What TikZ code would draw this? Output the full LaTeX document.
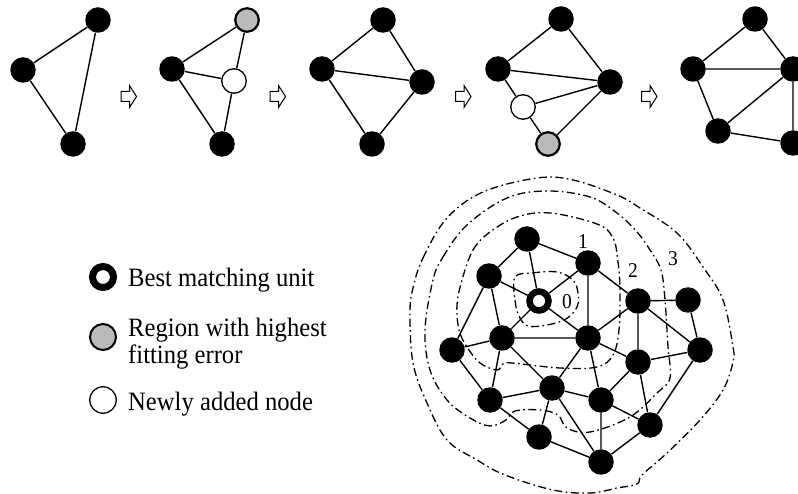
\documentclass[tikz,border=0pt]{standalone}
\usepackage{fontspec}
\setmainfont{Liberation Serif}[FakeStretch=0.93]
\begin{document}
\begin{tikzpicture}[x=1pt,y=-1pt,
  vtx/.style={circle,fill=black,minimum size=25.5pt,inner sep=0pt},
  errvtx/.style={circle,draw=black,line width=2.2pt,fill=black!27,minimum size=23.5pt,inner sep=0pt},
  newvtx/.style={circle,draw=black,line width=1.3pt,fill=white,minimum size=24.5pt,inner sep=0pt},
  bmu/.style={circle,draw=black,line width=6.5pt,fill=white,minimum size=19pt,inner sep=0pt},
  link/.style={line width=1.4pt},
  ring/.style={line width=1.3pt,dash pattern=on 8pt off 3.5pt on 1.6pt off 3.5pt},
  lvl/.style={font=\fontsize{21}{21}\selectfont,inner sep=0pt},
  legtext/.style={font=\fontsize{26.5}{26}\selectfont,anchor=base west,inner sep=0pt},
  stagearrow/.pic={\draw[line width=1pt,fill=white,line join=miter]
      (-7.5,-5) -- (1,-5) -- (1,-11) -- (8,0) -- (1,11) -- (1,5) -- (-7.5,5) -- cycle;},
]
\useasboundingbox (0,0) rectangle (798,494);

% ---------- growth sequence (top row) ----------
\node[vtx] (g1t) at (98,20) {};
\node[vtx] (g1l) at (23,70) {};
\node[vtx] (g1b) at (73,144) {};
\draw[link] (g1l) -- (g1t) (g1l) -- (g1b) (g1t) -- (g1b);

\pic at (128.5,96.5) {stagearrow};

\node[errvtx] (g2t) at (247,20) {};
\node[vtx] (g2l) at (172,69) {};
\node[newvtx] (g2n) at (234,81) {};
\node[vtx] (g2b) at (222,144) {};
\draw[link] (g2l) -- (g2t) (g2l) -- (g2n) (g2n) -- (g2t) (g2l) -- (g2b) (g2n) -- (g2b);

\pic at (277.5,96.5) {stagearrow};

\node[vtx] (g3t) at (383,20) {};
\node[vtx] (g3l) at (322,69) {};
\node[vtx] (g3r) at (422,82) {};
\node[vtx] (g3b) at (372,144) {};
\draw[link] (g3l) -- (g3t) (g3t) -- (g3r) (g3l) -- (g3r) (g3l) -- (g3b) (g3b) -- (g3r);

\pic at (463,96.5) {stagearrow};

\node[vtx] (g4t) at (561,19) {};
\node[vtx] (g4l) at (498,69) {};
\node[vtx] (g4r) at (610,82) {};
\node[newvtx] (g4n) at (523,107) {};
\node[errvtx] (g4b) at (548,144) {};
\draw[link] (g4l) -- (g4t) (g4t) -- (g4r) (g4l) -- (g4r) (g4l) -- (g4n)
  (g4n) -- (g4r) (g4n) -- (g4b) (g4b) -- (g4r);

\pic at (649,96.5) {stagearrow};

\node[vtx] (g5t) at (755,19) {};
\node[vtx] (g5l) at (693,69) {};
\node[vtx] (g5r) at (793,69) {};
\node[vtx] (g5bl) at (718,131) {};
\node[vtx] (g5br) at (793,143) {};
\draw[link] (g5l) -- (g5t) (g5t) -- (g5r) (g5l) -- (g5r) (g5l) -- (g5bl)
  (g5bl) -- (g5r) (g5bl) -- (g5br) (g5r) -- (g5br);

% ---------- legend ----------
\node[circle,draw=black,line width=7pt,fill=white,minimum size=21pt,inner sep=0pt] (kbmu) at (103,277) {};
\node[circle,draw=black,line width=2pt,fill=black!27,minimum size=26pt,inner sep=0pt] (kerr) at (103,337) {};
\node[circle,draw=black,line width=1.3pt,fill=white,minimum size=26.5pt,inner sep=0pt] (knew) at (103,400) {};
\node[legtext] (tbmu) at (128,287) {Best matching unit};
\node[legtext] (terr1) at (128,337) {Region with highest};
\node[legtext] (terr2) at (128,363) {fitting error};
\node[legtext] (tnew) at (128,410) {Newly added node};

% ---------- neighbourhood rings ----------
\draw[ring] plot[smooth cycle,tension=0.6] coordinates {
  (515,277) (532,273) (557,272) (573,280) (578,293) (577,307) (566,319)
  (547,325) (528,326) (519,316) (515,300)};
\draw[ring] plot[smooth cycle,tension=0.6] coordinates {
  (462,280) (473,250) (490,232) (517,217) (550,213) (597,224) (613,238)
  (618,262) (620,290) (619,330) (613,355) (597,367) (560,368) (512,363)
  (503,364) (497,370) (480,363) (467,347) (459,330) (457,305)};
\draw[ring] plot[smooth cycle,tension=0.6] coordinates {
  (433,280) (443,257) (467,225) (507,198) (547,191) (590,197) (617,213)
  (637,232) (650,250) (661,270) (665,300) (668,347) (670,378) (657,393)
  (630,417) (590,432) (567,428) (558,415) (540,410) (515,411) (506,420)
  (490,426) (470,418) (447,400) (430,370) (425,330)};
\draw[ring] plot[smooth cycle,tension=0.6] coordinates {
  (413,288) (423,258) (447,218) (483,192) (537,178) (573,180) (617,195)
  (640,208) (677,233) (703,267) (723,300) (733,347) (733,362) (723,390)
  (700,420) (667,453) (642,475) (637,484) (617,488) (590,493) (553,490)
  (505,475) (477,460) (447,440) (427,403) (413,363) (410,313)};

\node[lvl] (r0) at (567,302) {0};
\node[lvl] (r1) at (583,242) {1};
\node[lvl] (r2) at (633,271) {2};
\node[lvl] (r3) at (673,259) {3};

% ---------- map ----------
\node[vtx] (a) at (527,239) {};
\node[vtx] (b) at (588,263) {};
\node[vtx] (c) at (489,276) {};
\node[bmu] (w) at (539,301) {};
\node[vtx] (d) at (638,301) {};
\node[vtx] (e) at (688,300) {};
\node[vtx] (f) at (452,350) {};
\node[vtx] (g) at (502,338) {};
\node[vtx] (h) at (588,338) {};
\node[vtx] (i) at (638,362) {};
\node[vtx] (j) at (700,350) {};
\node[vtx] (k) at (490,400) {};
\node[vtx] (l) at (552,388) {};
\node[vtx] (m) at (601,400) {};
\node[vtx] (n) at (650,425) {};
\node[vtx] (o) at (539,437) {};
\node[vtx] (p) at (601,462) {};

\draw[link]
  (a) -- (c) (a) -- (w) (a) -- (b)
  (c) -- (w) (c) -- (f) (c) -- (g)
  (w) -- (b) (w) -- (g) (w) -- (h)
  (b) -- (h) (b) -- (d)
  (d) -- (e) (d) -- (h) (d) -- (i) (d) -- (j)
  (e) -- (j)
  (f) -- (g) (f) -- (k)
  (g) -- (h) (g) -- (k) (g) -- (l)
  (h) -- (l) (h) -- (m) (h) -- (i)
  (i) -- (j) (i) -- (m) (i) -- (n)
  (j) -- (n)
  (k) -- (l) (k) -- (o)
  (l) -- (m) (l) -- (o) (l) -- (p)
  (m) -- (n) (m) -- (p)
  (n) -- (p) (o) -- (p);
\end{tikzpicture}
\end{document}
